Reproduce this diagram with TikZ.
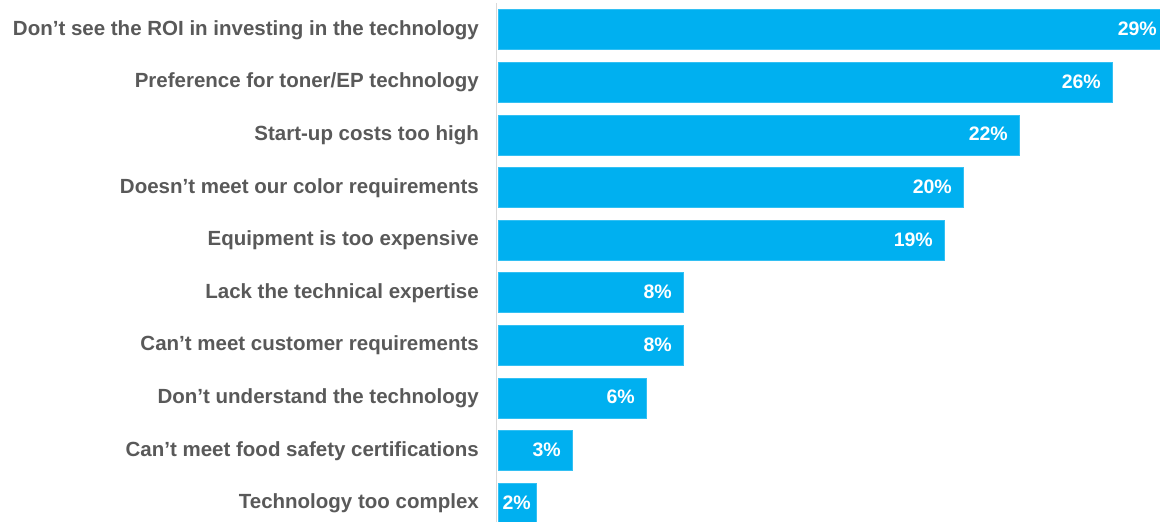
\documentclass[tikz,border=0pt]{standalone}
\usepackage{fontspec}
\setmainfont{Liberation Sans}
\usepackage{tikz}
\definecolor{barblue}{HTML}{00B0F0}
\definecolor{labelgray}{HTML}{595959}
\definecolor{axisgray}{HTML}{D9D9D9}

\begin{document}
\begin{tikzpicture}[x=1pt,y=-1pt,
        reason/.style={anchor=base east,inner sep=0pt,text=labelgray,font=\fontsize{20.5}{24}\selectfont\bfseries},
        share/.style={anchor=base east,inner sep=0pt,text=white,font=\fontsize{19.5}{23}\selectfont\bfseries},
        bar/.style={fill=barblue,draw=barblue!80!white,line width=0.6pt}]
        \useasboundingbox (0,0) rectangle (1160,522);
        \clip (0,0) rectangle (1160,522);
        \draw[axisgray,line width=1.5pt] (496.5,3) -- (496.5,522);
        \foreach \i/\txt/\len/\px/\val in {
            0/{Don’t see the ROI in investing in the technology}/1168/1157/29,
            1/{Preference for toner/EP technology}/1112/1101/26,
            2/{Start-up costs too high}/1019/1008/22,
            3/{Doesn’t meet our color requirements}/963/952/20,
            4/{Equipment is too expensive}/944/933/19,
            5/{Lack the technical expertise}/683/672/8,
            6/{Can’t meet customer requirements}/683/672/8,
            7/{Don’t understand the technology}/646/635/6,
            8/{Can’t meet food safety certifications}/572/561/3,
            9/{Technology too complex}/536/531/2}{
            \pgfmathsetmacro{\yc}{29.7+52.6*\i}
            \draw[bar] (498,\yc-20) rectangle (\len,\yc+20);
            \node[reason] (reason\i) at (479,\yc+5.6) {\txt};
            \node[share] (share\i) at (\px,\yc+6) {\val\%};
        }
\end{tikzpicture}
\end{document}
